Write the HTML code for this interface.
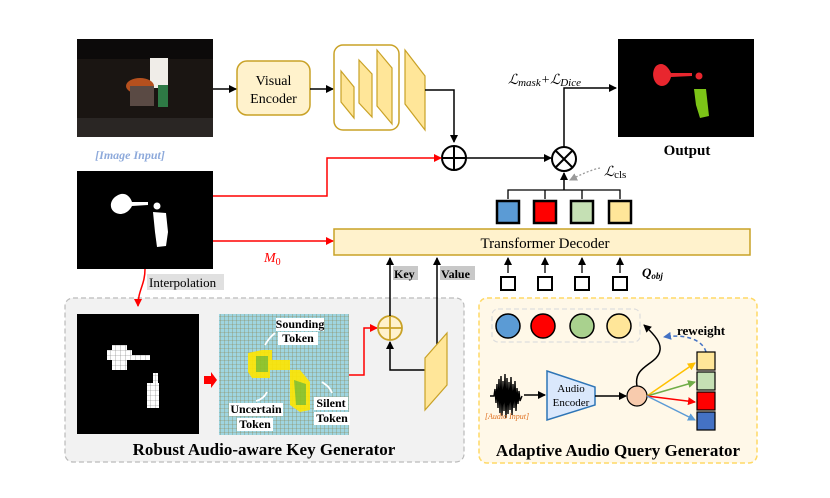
<!DOCTYPE html>
<html><head><meta charset="utf-8"><style>
html,body{margin:0;padding:0;background:#fff;}
svg{display:block;font-family:"Liberation Serif",serif;}
</style></head><body>
<svg width="830" height="498" viewBox="0 0 830 498" xmlns="http://www.w3.org/2000/svg">
<defs>
<marker id="ak" markerWidth="8" markerHeight="8" refX="7" refY="4" orient="auto" markerUnits="userSpaceOnUse"><path d="M0,0 L8,4 L0,8 z" fill="#000"/></marker>
<marker id="ar" markerWidth="8" markerHeight="8" refX="7" refY="4" orient="auto" markerUnits="userSpaceOnUse"><path d="M0,0 L8,4 L0,8 z" fill="#f00"/></marker>
<marker id="ag" markerWidth="8" markerHeight="8" refX="7" refY="4" orient="auto" markerUnits="userSpaceOnUse"><path d="M0,0 L8,4 L0,8 z" fill="#999"/></marker>
<marker id="ab" markerWidth="8" markerHeight="8" refX="7" refY="4" orient="auto" markerUnits="userSpaceOnUse"><path d="M0,0 L8,4 L0,8 z" fill="#4472c4"/></marker>
<marker id="ay" markerWidth="8" markerHeight="8" refX="7" refY="4" orient="auto" markerUnits="userSpaceOnUse"><path d="M0,0 L8,4 L0,8 z" fill="#ffc000"/></marker>
<marker id="agr" markerWidth="8" markerHeight="8" refX="7" refY="4" orient="auto" markerUnits="userSpaceOnUse"><path d="M0,0 L8,4 L0,8 z" fill="#70ad47"/></marker>
<marker id="alb" markerWidth="8" markerHeight="8" refX="7" refY="4" orient="auto" markerUnits="userSpaceOnUse"><path d="M0,0 L8,4 L0,8 z" fill="#5b9bd5"/></marker>
<pattern id="grid" width="4" height="4" patternUnits="userSpaceOnUse"><rect width="4" height="4" fill="#9fd5e0"/><path d="M0,0 H4 M0,0 V4" stroke="#8a7a40" stroke-width="0.6"/></pattern>
<pattern id="wgrid" width="5" height="5" patternUnits="userSpaceOnUse"><rect width="5" height="5" fill="#fff"/><path d="M0,0 H5 M0,0 V5" stroke="#777" stroke-width="0.6"/></pattern>
</defs>

<!-- image input -->
<rect x="77" y="39" width="136" height="98" fill="#1a1512"/>
<rect x="77" y="39" width="136" height="20" fill="#0c0a0a"/>
<rect x="77" y="118" width="136" height="19" fill="#2a2624"/>
<rect x="150" y="58" width="18" height="30" fill="#f0ede8"/>
<ellipse cx="140" cy="86" rx="14" ry="8" fill="#b5501e"/>
<rect x="130" y="86" width="24" height="20" fill="#5a4a44"/>
<rect x="158" y="85" width="10" height="22" fill="#2e7a45"/>
<text x="130" y="159" font-size="12" font-style="italic" fill="#8eaadb" text-anchor="middle" font-weight="bold">[Image  Input]</text>

<!-- mask image -->
<rect x="77" y="171" width="136" height="98" fill="#000"/>
<path d="M115,197 C108,203 110,213 120,214 C126,214 130,210 132,206 L148,205 L148,202 L132,202 C130,196 124,190 115,197z" fill="#fff"/>
<circle cx="157" cy="206" r="3.5" fill="#fff"/>
<path d="M153,212 L166,213 L168,232 L166,246 L157,247 L155,232z" fill="#fff"/>

<!-- visual encoder -->
<rect x="237" y="61" width="73" height="54" rx="10" fill="#fff2cc" stroke="#c9a227" stroke-width="1.5"/>
<text x="273.5" y="85" font-size="14" text-anchor="middle">Visual</text>
<text x="273.5" y="103" font-size="14" text-anchor="middle">Encoder</text>
<line x1="213" y1="89" x2="236" y2="89" stroke="#000" stroke-width="1.5" marker-end="url(#ak)"/>
<line x1="310" y1="89" x2="333" y2="89" stroke="#000" stroke-width="1.5" marker-end="url(#ak)"/>
<rect x="334" y="45" width="65" height="85" rx="9" fill="#fff" stroke="#c9a227" stroke-width="1.5"/>
<polygon points="341,71 354,87 354,118 341,102" fill="#ffe699" stroke="#c9a227" stroke-width="1.2"/>
<polygon points="359,60 372,74 372,117 359,103" fill="#ffe699" stroke="#c9a227" stroke-width="1.2"/>
<polygon points="377,50 392,68 392,124 377,106" fill="#ffe699" stroke="#c9a227" stroke-width="1.2"/>
<polygon points="405,50 425,76 425,130 405,104" fill="#ffe699" stroke="#c9a227" stroke-width="1.2"/>
<polyline points="425,90 454,90 454,142" fill="none" stroke="#000" stroke-width="1.5" marker-end="url(#ak)"/>

<!-- plus -->
<circle cx="454" cy="158" r="12" fill="#fff" stroke="#000" stroke-width="2"/>
<path d="M442,158 H466 M454,146 V170" stroke="#000" stroke-width="2"/>
<polyline points="213,196 327,196 327,158 441,158" fill="none" stroke="#f00" stroke-width="1.5" marker-end="url(#ar)"/>
<line x1="466" y1="158" x2="551" y2="158" stroke="#000" stroke-width="1.5" marker-end="url(#ak)"/>

<!-- times -->
<circle cx="564" cy="159" r="12" fill="#fff" stroke="#000" stroke-width="2"/>
<path d="M555.5,150.5 L572.5,167.5 M572.5,150.5 L555.5,167.5" stroke="#000" stroke-width="2"/>
<polyline points="564,147 564,88 616,88" fill="none" stroke="#000" stroke-width="1.5" marker-end="url(#ak)"/>
<text x="508" y="84" font-size="14" font-style="italic">ℒ<tspan font-size="11" dy="2">mask</tspan><tspan dy="-2">+ℒ</tspan><tspan font-size="11" dy="2">Dice</tspan></text>

<!-- output -->
<rect x="618" y="39" width="136" height="98" fill="#000"/>
<path d="M656,66 C650,73 654,86 662,86 C667,86 670,81 671,77 L692,76 L692,73 L671,73 C668,66 662,61 656,66z" fill="#e8262e"/>
<circle cx="699" cy="76" r="3.5" fill="#e8262e"/>
<path d="M694,89 L706,89 L709,116 L700,118 L696,105z" fill="#7cc417"/>
<text x="687" y="155" font-size="15" font-weight="bold" text-anchor="middle">Output</text>

<!-- cls -->
<path d="M600,168 C590,170 580,175 570,180" fill="none" stroke="#999" stroke-width="1.3" stroke-dasharray="2,2" marker-end="url(#ag)"/>
<text x="604" y="176" font-size="14" font-style="italic">ℒ<tspan font-size="11" font-style="normal" dy="2">cls</tspan></text>

<!-- query tree -->
<path d="M508,199 V190 H620 V199 M545,190 V199 M582,190 V199" fill="none" stroke="#000" stroke-width="1.3"/>
<line x1="564" y1="190" x2="564" y2="173" stroke="#000" stroke-width="1.5" marker-end="url(#ak)"/>
<rect x="497" y="201" width="22" height="22" fill="#5b9bd5" stroke="#000" stroke-width="2.5"/>
<rect x="534" y="201" width="22" height="22" fill="#ff0000" stroke="#000" stroke-width="2.5"/>
<rect x="571" y="201" width="22" height="22" fill="#c5e0b4" stroke="#000" stroke-width="2.5"/>
<rect x="609" y="201" width="22" height="22" fill="#ffe699" stroke="#000" stroke-width="2.5"/>

<!-- transformer decoder -->
<rect x="334" y="229" width="416" height="26" fill="#fff2cc" stroke="#c9a227" stroke-width="1.5"/>
<text x="545" y="248" font-size="15" text-anchor="middle">Transformer Decoder</text>
<line x1="213" y1="241" x2="333" y2="241" stroke="#f00" stroke-width="1.5" marker-end="url(#ar)"/>
<text x="264" y="262" font-size="14" font-style="italic" fill="#f00">M<tspan font-size="10" font-style="normal" dy="3">0</tspan></text>

<!-- small query squares -->
<g stroke="#000" stroke-width="2" fill="#fff">
<rect x="501" y="277" width="14" height="13"/><rect x="538" y="277" width="14" height="13"/><rect x="575" y="277" width="14" height="13"/><rect x="613" y="277" width="14" height="13"/>
</g>
<g stroke="#000" stroke-width="1.3">
<line x1="508" y1="273" x2="508" y2="258" marker-end="url(#ak)"/><line x1="545" y1="273" x2="545" y2="258" marker-end="url(#ak)"/><line x1="582" y1="273" x2="582" y2="258" marker-end="url(#ak)"/><line x1="620" y1="273" x2="620" y2="258" marker-end="url(#ak)"/>
</g>
<text x="642" y="277" font-size="13" font-style="italic" font-weight="bold">Q<tspan font-size="9" dy="2">obj</tspan></text>

<!-- key/value -->
<rect x="393" y="266" width="25" height="14" fill="#c8c8c8"/>
<text x="394" y="278" font-size="12" font-weight="bold">Key</text>
<rect x="440" y="266" width="35" height="14" fill="#c8c8c8"/>
<text x="441" y="278" font-size="12" font-weight="bold">Value</text>

<!-- interpolation -->
<rect x="147" y="274" width="77" height="16" fill="#e0e0e0"/>
<text x="149" y="287" font-size="13">Interpolation</text>

<!-- left region -->
<rect x="65" y="298" width="399" height="164" rx="8" fill="#f2f2f2" stroke="#bbb" stroke-width="1.2" stroke-dasharray="5,3"/>
<path d="M145,269 C145,285 138,290 138,306" fill="none" stroke="#f00" stroke-width="1.5" marker-end="url(#ar)"/>
<rect x="77" y="314" width="122" height="120" fill="#000"/>
<g fill="url(#wgrid)">
<rect x="107" y="350" width="25" height="10"/><rect x="112" y="345" width="15" height="25"/><rect x="132" y="355" width="18" height="5"/>
<rect x="153" y="373" width="5" height="10"/><rect x="147" y="383" width="12" height="25"/>
</g>
<polygon points="204,376 211,376 211,372 217,380 211,388 211,384 204,384" fill="#f00"/>
<rect x="219" y="314" width="130" height="121" fill="url(#grid)"/>
<g opacity="0.9">
<path d="M248,353 L262,350 L272,350 L272,360 L290,360 L290,370 L270,370 L270,378 L252,378 L248,372z" fill="#ffe600"/>
<path d="M256,356 L268,356 L268,372 L256,372z" fill="#8fc31f"/>
<path d="M290,370 L300,370 L310,382 L310,410 L300,412 L290,405z" fill="#ffe600"/>
<path d="M294,380 L306,384 L306,405 L296,405z" fill="#8fc31f"/>
</g>
<g font-size="12" font-weight="bold" text-anchor="middle">
<rect x="276" y="318" width="48" height="13" fill="#fff"/><text x="300" y="328">Sounding</text>
<rect x="278" y="332" width="40" height="13" fill="#fff"/><text x="298" y="342">Token</text>
<rect x="229" y="403" width="54" height="13" fill="#fff"/><text x="256" y="413">Uncertain</text>
<rect x="237" y="418" width="36" height="13" fill="#fff"/><text x="255" y="428">Token</text>
<rect x="314" y="397" width="34" height="13" fill="#fff"/><text x="331" y="407">Silent</text>
<rect x="314" y="412" width="36" height="13" fill="#fff"/><text x="332" y="422">Token</text>
</g>
<g stroke="#fff" stroke-width="1.8" fill="none">
<path d="M265,345 C268,340 270,337 275,333"/><path d="M267,392 C264,398 260,400 256,401"/><path d="M322,382 C328,386 330,388 332,393"/>
</g>
<text x="264" y="455" font-size="17" font-weight="bold" text-anchor="middle">Robust Audio-aware Key Generator</text>

<!-- key plus -->
<polyline points="349,375 364,375 364,328 377,328" fill="none" stroke="#f00" stroke-width="1.5" marker-end="url(#ar)"/>
<circle cx="390" cy="328" r="12" fill="#fff2cc" stroke="#c9a227" stroke-width="1.8"/>
<path d="M378,328 H402 M390,316 V340" stroke="#c9a227" stroke-width="1.8"/>
<line x1="390" y1="316" x2="390" y2="258" stroke="#000" stroke-width="1.5" marker-end="url(#ak)"/>
<polyline points="425,370 390,370 390,342" fill="none" stroke="#000" stroke-width="1.5" marker-end="url(#ak)"/>
<line x1="437" y1="345" x2="437" y2="258" stroke="#000" stroke-width="1.5" marker-end="url(#ak)"/>
<polygon points="447,333 447,385 425,410 425,358" fill="#ffe699" stroke="#c9a227" stroke-width="1.2"/>

<!-- right region -->
<rect x="479" y="298" width="278" height="165" rx="8" fill="#fff8e8" stroke="#ffd966" stroke-width="1.5" stroke-dasharray="5,3"/>
<rect x="492" y="309" width="148" height="33" rx="6" fill="none" stroke="#ddd" stroke-width="1.2" stroke-dasharray="5,3"/>
<circle cx="508" cy="326" r="12" fill="#5b9bd5" stroke="#000" stroke-width="1.5"/>
<circle cx="543" cy="326" r="12" fill="#ff0000" stroke="#000" stroke-width="1.5"/>
<circle cx="582" cy="326" r="12" fill="#a9d18e" stroke="#000" stroke-width="1.5"/>
<circle cx="619" cy="326" r="12" fill="#ffe699" stroke="#000" stroke-width="1.5"/>
<!-- waveform -->
<path d="M490,396 L494,396 L495,389 L496,403 L497,384 L498,408 L499,379 L500,413 L501,376 L502,416 L503,381 L504,411 L505,374 L506,418 L507,378 L508,414 L509,382 L510,410 L511,377 L512,415 L513,384 L514,408 L515,381 L516,411 L517,388 L518,404 L519,391 L520,401 L522,396" fill="none" stroke="#000" stroke-width="1.4"/>
<line x1="524" y1="395" x2="545" y2="395" stroke="#000" stroke-width="1.5" marker-end="url(#ak)"/>
<text x="507" y="419" font-size="8" font-style="italic" fill="#e07020" text-anchor="middle">[Audio Input]</text>
<polygon points="547,371 595,387 595,405 547,420" fill="#dae8fc" stroke="#2e75b6" stroke-width="1.5"/>
<text x="571" y="392" font-size="11" text-anchor="middle">Audio</text>
<text x="571" y="406" font-size="11" text-anchor="middle">Encoder</text>
<line x1="595" y1="396" x2="626" y2="396" stroke="#000" stroke-width="1.5" marker-end="url(#ak)"/>
<circle cx="637" cy="396" r="10" fill="#f8cbad" stroke="#000" stroke-width="1.2"/>
<path d="M637,386 C633,365 658,365 660,350 C661,343 656,336 644,325" fill="none" stroke="#000" stroke-width="1.5" marker-end="url(#ak)"/>
<path d="M706,352 C702,338 682,334 664,337" fill="none" stroke="#4472c4" stroke-width="1.5" stroke-dasharray="4,3" marker-end="url(#ab)"/>
<text x="677" y="335" font-size="13" font-weight="bold">reweight</text>
<line x1="647" y1="396" x2="695" y2="363" stroke="#ffc000" stroke-width="1.5" marker-end="url(#ay)"/>
<line x1="647" y1="396" x2="695" y2="382" stroke="#70ad47" stroke-width="1.5" marker-end="url(#agr)"/>
<line x1="647" y1="396" x2="695" y2="402" stroke="#f00" stroke-width="1.5" marker-end="url(#ar)"/>
<line x1="647" y1="396" x2="695" y2="420" stroke="#5b9bd5" stroke-width="1.5" marker-end="url(#alb)"/>
<rect x="697" y="352" width="18" height="18" fill="#ffe699" stroke="#000" stroke-width="1.2"/>
<rect x="697" y="372" width="18" height="18" fill="#c5e0b4" stroke="#000" stroke-width="1.2"/>
<rect x="697" y="392" width="18" height="18" fill="#ff0000" stroke="#000" stroke-width="1.2"/>
<rect x="697" y="412" width="18" height="18" fill="#4472c4" stroke="#000" stroke-width="1.2"/>
<text x="618" y="456" font-size="17" font-weight="bold" text-anchor="middle">Adaptive Audio Query Generator</text>
</svg>
</body></html>
